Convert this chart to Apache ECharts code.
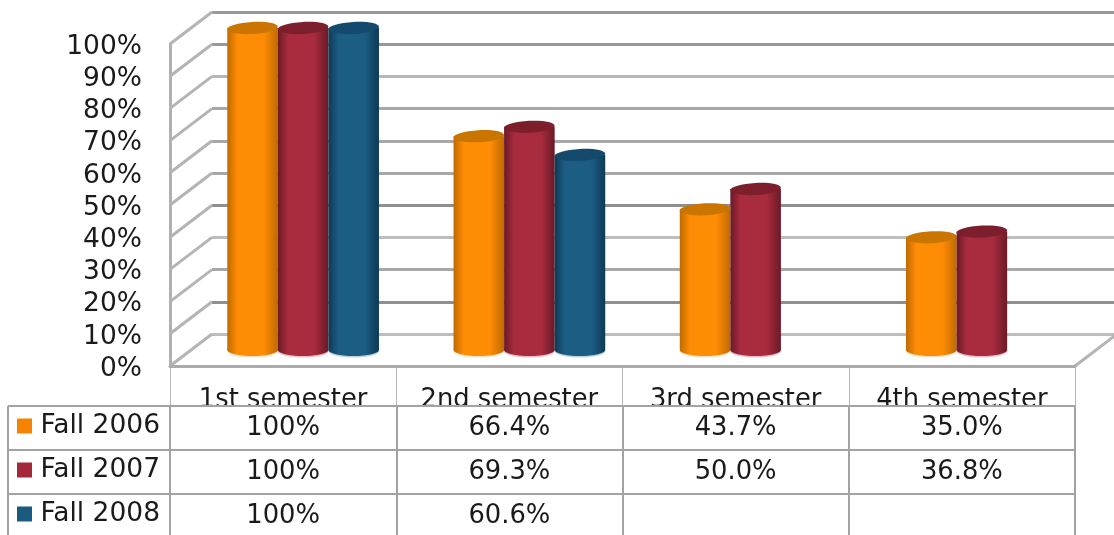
<!DOCTYPE html>
<html><head><meta charset="utf-8">
<style>html,body{margin:0;padding:0;background:#fff;overflow:hidden}#c{width:1114px;height:535px}</style>
<script src="https://cdn.jsdelivr.net/npm/echarts@6/dist/echarts.min.js"></script>
</head><body><div id="c"></div>
<script>
const categories = ['1st semester','2nd semester','3rd semester','4th semester'];
const rows = ['Fall 2006','Fall 2007','Fall 2008'];
const fall2006 = [100,66.4,43.7,35.0];
const fall2007 = [100,69.3,50.0,36.8];
const fall2008 = [100,60.6,null,null];
const tableText = [
  ['100%','66.4%','43.7%','35.0%'],
  ['100%','69.3%','50.0%','36.8%'],
  ['100%','60.6%','','']
];
const ticks = [0,10,20,30,40,50,60,70,80,90,100];
const FONT = 'DejaVu Sans';
const FS = 26.5;
const FS2 = 25.8;
const TXT = '#1a1a1a';
const RULE = '#a3a3a3';
const looks = [
  {key:'#f58200', mid:'#ff8c05', edge:'#c06a00', top:'#c97500', fringe:'#fde3c4'},
  {key:'#a3283b', mid:'#a92b3e', edge:'#6a1a26', top:'#7d1e2c', fringe:'#eebcc6'},
  {key:'#1a5a7e', mid:'#1c5d84', edge:'#0e3a55', top:'#144a6b', fringe:'#bcd4e2'}
];
const cylinder = (si) => (params, api) => {
  const w = api.size([1,0])[0] * 0.2235;
  const ctr = api.coord([api.value(0), api.value(1)]);
  const base = api.coord([api.value(0), 0]);
  const cx = ctr[0] + (si-1)*w, rx = w/2, ry = 6;
  const look = looks[si];
  const grad = {type:'linear',x:0,y:0,x2:1,y2:0,colorStops:[
    {offset:0,color:look.edge},{offset:0.2,color:look.mid},{offset:0.72,color:look.mid},{offset:1,color:look.edge}]};
  return {type:'group',children:[
    {type:'ellipse',shape:{cx,cy:base[1]+1.5,rx,ry},style:{fill:look.fringe}},
    {type:'ellipse',shape:{cx,cy:base[1],rx,ry},style:{fill:grad}},
    {type:'rect',shape:{x:cx-rx,y:ctr[1],width:w,height:base[1]-ctr[1]},style:{fill:grad}},
    {type:'ellipse',shape:{cx,cy:ctr[1],rx,ry},rotation:0.05,originX:cx,originY:ctr[1],style:{fill:look.top}}
  ]};
};
const diag = (params, api) => {
  const p = api.coord([0, api.value(1)]);
  const x = p[0] - api.size([1,0])[0]/2;
  return {type:'line',shape:{x1:x,y1:p[1],x2:x+42,y2:p[1]-32},style:{stroke:'#b4b4b4',lineWidth:3}};
};
const floorEnd = (params, api) => {
  const p = api.coord([3, 0]);
  const x = p[0] + api.size([1,0])[0]/2;
  return {type:'line',shape:{x1:x,y1:p[1],x2:x+42,y2:p[1]-32},style:{stroke:'#b4b4b4',lineWidth:3}};
};
const cellText = (params, api) => {
  const p = api.coord([api.value(0), api.value(1)]);
  return {type:'text',x:p[0],y:p[1],style:{text:tableText[api.value(1)][api.value(0)],fill:TXT,font:FS2+'px "'+FONT+'"',align:'center',verticalAlign:'middle'}};
};
const cells = [];
tableText.forEach((r,i)=>r.forEach((t,j)=>{ if(t) cells.push([j,i]); }));
const hidden = {show:false};
const chart = echarts.init(document.getElementById('c'),null,{renderer:'canvas'});
chart.setOption({
  animation:false,
  backgroundColor:'#fff',
  grid:[
    {left:212,top:12,width:960,height:322,outerBoundsMode:'none'},
    {left:190,top:28,width:905,height:322,outerBoundsMode:'none'},
    {left:170,top:44,width:905,height:322,outerBoundsMode:'none'},
    {left:170,top:366,width:905,height:40,outerBoundsMode:'none'},
    {left:170,top:406,width:905,height:132,outerBoundsMode:'none'},
    {left:8,top:406,width:162,height:132,outerBoundsMode:'none'}
  ],
  xAxis:[
    {gridIndex:0,type:'category',data:categories,show:false},
    {gridIndex:1,type:'category',data:categories,show:false},
    {gridIndex:2,type:'category',data:categories,show:false},
    {gridIndex:3,type:'category',data:categories,position:'top',z:1,
      axisLine:{show:true,onZero:false,lineStyle:{color:'#ababab',width:3}},axisTick:hidden,
      splitLine:{show:true,lineStyle:{color:'#b8b8b8',width:1}},
      axisLabel:{inside:true,interval:0,margin:34,color:TXT,fontFamily:FONT,fontSize:FS2,verticalAlign:'middle'}},
    {gridIndex:4,type:'category',data:categories,position:'top',z:5,
      axisLine:hidden,axisTick:hidden,axisLabel:hidden,
      splitLine:{show:true,lineStyle:{color:RULE,width:2}}},
    {gridIndex:5,type:'category',data:[''],position:'top',z:5,
      axisLine:hidden,axisTick:hidden,axisLabel:hidden,
      splitLine:{show:true,lineStyle:{color:RULE,width:2}}}
  ],
  yAxis:[
    {gridIndex:0,type:'value',min:0,max:100,interval:10,axisLine:hidden,axisTick:hidden,axisLabel:hidden,
      splitLine:{show:true,lineStyle:{width:3,color:['#bdbdbd','#8f8f8f','#a8a8a8','#bdbdbd','#8f8f8f','#a8a8a8','#a8a8a8','#a8a8a8','#b8b8b8','#999999','#999999']}}},
    {gridIndex:1,type:'value',min:0,max:100,interval:10,show:false},
    {gridIndex:2,type:'value',min:0,max:100,interval:10,
      axisLine:{show:true,lineStyle:{color:'#b0b0b0',width:3}},axisTick:hidden,splitLine:hidden,
      axisLabel:{margin:28,color:TXT,fontFamily:FONT,fontSize:FS,verticalAlign:'top',lineHeight:6,formatter:'{value}%'}},
    {gridIndex:3,type:'value',show:false},
    {gridIndex:4,type:'category',data:rows,inverse:true,z:5,
      axisLine:hidden,axisTick:hidden,axisLabel:hidden,
      splitLine:{show:true,lineStyle:{color:RULE,width:2}}},
    {gridIndex:5,type:'category',data:rows,inverse:true,z:5,
      axisLine:hidden,axisTick:hidden,
      splitLine:{show:true,lineStyle:{color:RULE,width:2}},
      axisLabel:{inside:true,margin:9,interval:0,color:TXT,fontFamily:FONT,fontSize:FS,padding:[0,0,4,0],
        formatter:(v,i)=>'{k'+i+'|} '+v,
        rich:{
          k0:{width:15,height:15,backgroundColor:looks[0].key},
          k1:{width:15,height:15,backgroundColor:looks[1].key},
          k2:{width:15,height:15,backgroundColor:looks[2].key}
        }}}
  ],
  series:[
    {type:'custom',name:'wall',xAxisIndex:2,yAxisIndex:2,data:ticks.map(t=>[0,t]),renderItem:diag,silent:true,z:1},
    {type:'custom',name:'floor',xAxisIndex:2,yAxisIndex:2,data:[[3,0]],renderItem:floorEnd,silent:true,z:1},
    {type:'custom',name:rows[0],xAxisIndex:1,yAxisIndex:1,z:3,renderItem:cylinder(0),data:fall2006.map((v,i)=>[i,v]).filter(d=>d[1]!=null)},
    {type:'custom',name:rows[1],xAxisIndex:1,yAxisIndex:1,z:4,renderItem:cylinder(1),data:fall2007.map((v,i)=>[i,v]).filter(d=>d[1]!=null)},
    {type:'custom',name:rows[2],xAxisIndex:1,yAxisIndex:1,z:5,renderItem:cylinder(2),data:fall2008.map((v,i)=>[i,v]).filter(d=>d[1]!=null)},
    {type:'custom',name:'table',xAxisIndex:4,yAxisIndex:4,z:6,renderItem:cellText,data:cells}
  ]
});
</script></body></html>
